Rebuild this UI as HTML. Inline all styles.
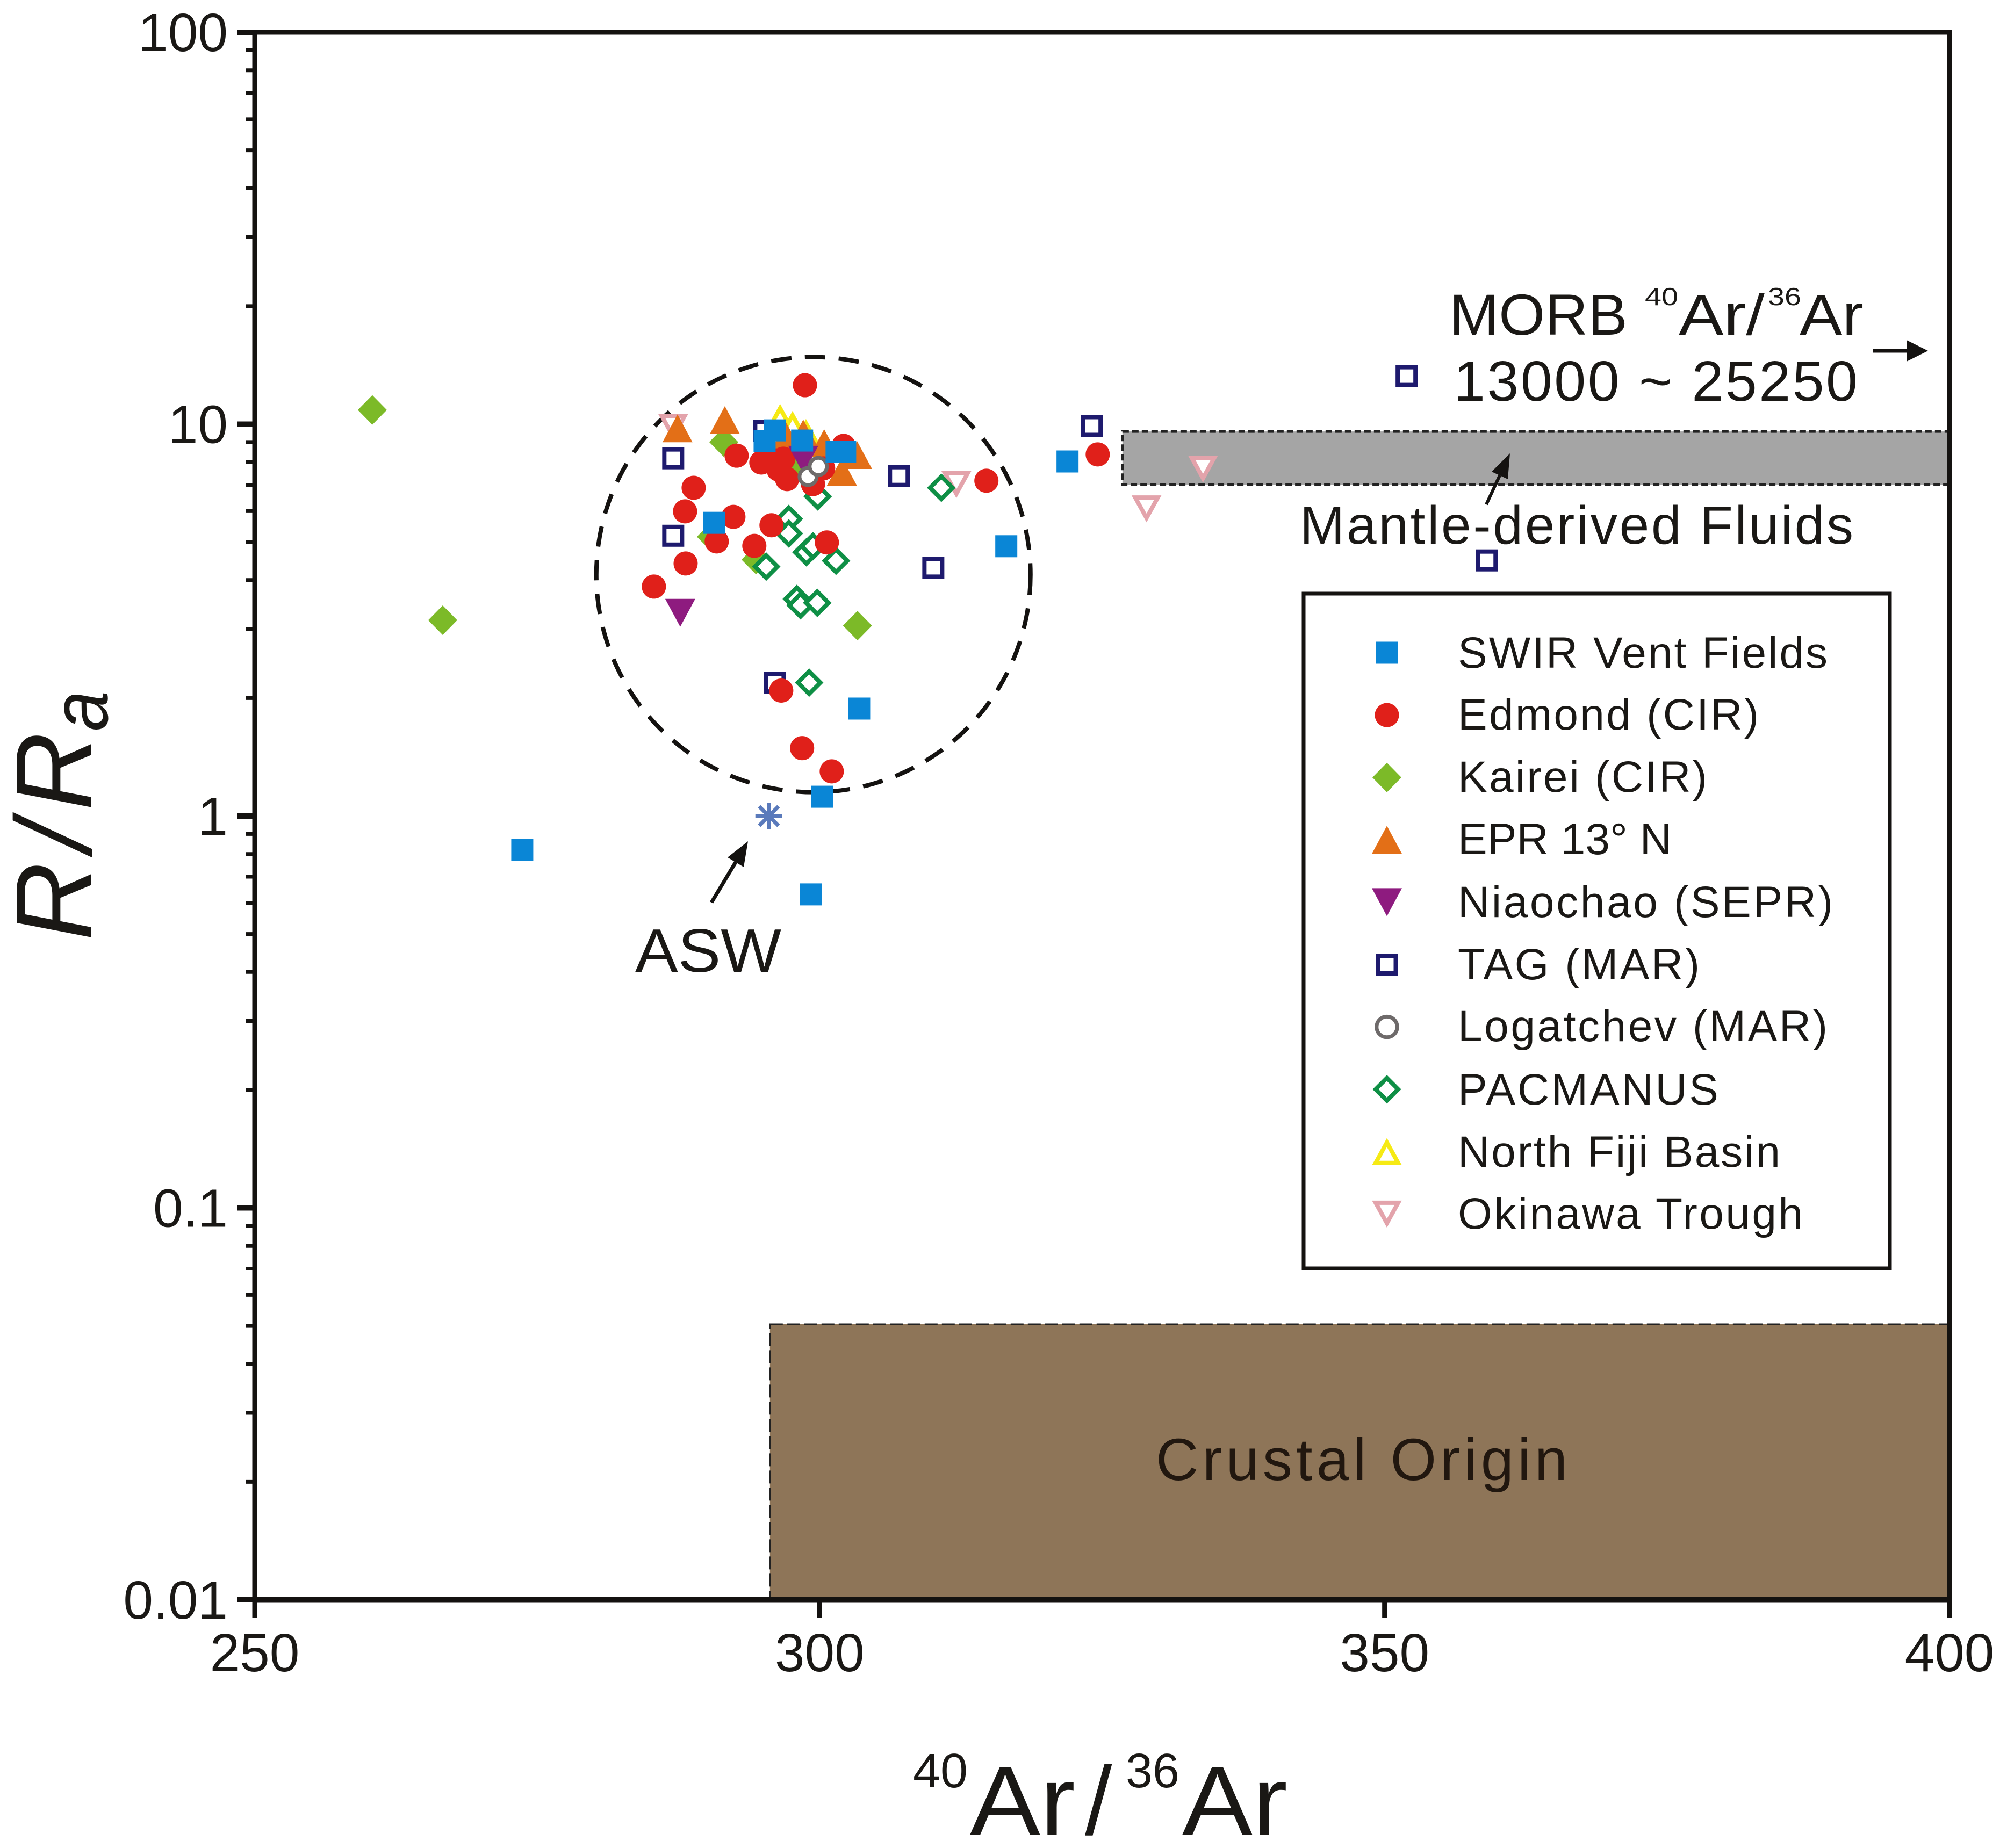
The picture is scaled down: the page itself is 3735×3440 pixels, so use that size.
<!DOCTYPE html>
<html lang="en">
<head>
<meta charset="utf-8">
<title>R/Ra vs 40Ar/36Ar</title>
<style>
html,body{margin:0;padding:0;background:#fff;}
svg{display:block;}
text{font-family:"Liberation Sans",Arial,sans-serif;fill:#1a1815;}
</style>
</head>
<body>
<svg id="chart" xmlns="http://www.w3.org/2000/svg" width="3735" height="3440" viewBox="0 0 3735 3440">
  <rect x="0" y="0" width="3735" height="3440" fill="#fff"/>
  <g id="regions"></g>
  <g id="axes"></g>
  <g id="asw-ring"></g>
  <g id="marks"></g>

  <text transform="translate(170,1751) rotate(-90)" font-size="202" font-style="italic" textLength="388" lengthAdjust="spacing">R/R</text>
  <text transform="translate(200,1361) rotate(-90)" font-size="150" font-style="italic" textLength="75" lengthAdjust="spacingAndGlyphs">a</text>

  <g>
    <text x="1699" y="3327" font-size="90" textLength="102" lengthAdjust="spacingAndGlyphs">40</text>
    <text x="1805" y="3415" font-size="182" textLength="196" lengthAdjust="spacingAndGlyphs">Ar</text>
    <text x="2019" y="3415" font-size="182">/</text>
    <text x="2095" y="3327" font-size="90" textLength="100" lengthAdjust="spacingAndGlyphs">36</text>
    <text x="2200" y="3415" font-size="182" textLength="196" lengthAdjust="spacingAndGlyphs">Ar</text>
  </g>

  <g>
    <text x="2697" y="623" font-size="108" textLength="332" lengthAdjust="spacingAndGlyphs">MORB</text>
    <text x="3061" y="568" font-size="46" textLength="62" lengthAdjust="spacingAndGlyphs">40</text>
    <text x="3124" y="623" font-size="108" textLength="160" lengthAdjust="spacingAndGlyphs">Ar/</text>
    <text x="3290" y="568" font-size="46" textLength="62" lengthAdjust="spacingAndGlyphs">36</text>
    <text x="3349" y="623" font-size="108" textLength="119" lengthAdjust="spacingAndGlyphs">Ar</text>
    <text x="2705" y="746" font-size="106" textLength="752" lengthAdjust="spacing">13000 ~ 25250</text>
    <line x1="3486" y1="653" x2="3552" y2="653" stroke="#141210" stroke-width="7"/>
    <polygon points="3588,653 3548,633 3548,673" fill="#141210"/>
  </g>

  <g>
    <line x1="2766" y1="939" x2="2791" y2="885" stroke="#141210" stroke-width="6"/>
    <polygon points="2810,844 2806,892 2776,878" fill="#141210"/>
    <text x="2419" y="1012" font-size="100" textLength="1030" lengthAdjust="spacing">Mantle-derived Fluids</text>
  </g>

  <g>
    <line x1="1324" y1="1680" x2="1369" y2="1605" stroke="#141210" stroke-width="7"/>
    <polygon points="1392,1566 1384,1614 1354,1596" fill="#141210"/>
    <text x="1182" y="1809" font-size="114" textLength="272" lengthAdjust="spacingAndGlyphs">ASW</text>
  </g>

  <text x="2151" y="2755" font-size="110" textLength="766" lengthAdjust="spacing" style="fill:#21170f">Crustal Origin</text>

  <g id="legend">
    <rect x="2426" y="1105" width="1091" height="1256" fill="#fff" stroke="#141210" stroke-width="7"/>
    <g id="legend-markers"></g>
    <text x="2713" y="1243" font-size="82" textLength="688" lengthAdjust="spacing">SWIR Vent Fields</text>
    <text x="2713" y="1358" font-size="82" textLength="560" lengthAdjust="spacing">Edmond (CIR)</text>
    <text x="2713" y="1474" font-size="82" textLength="464" lengthAdjust="spacing">Kairei (CIR)</text>
    <text x="2713" y="1590" font-size="82" textLength="398" lengthAdjust="spacing">EPR 13° N</text>
    <text x="2713" y="1707" font-size="82" textLength="698" lengthAdjust="spacing">Niaochao (SEPR)</text>
    <text x="2713" y="1823" font-size="82" textLength="450" lengthAdjust="spacing">TAG (MAR)</text>
    <text x="2713" y="1938" font-size="82" textLength="688" lengthAdjust="spacing">Logatchev (MAR)</text>
    <text x="2713" y="2056" font-size="82" textLength="485" lengthAdjust="spacing">PACMANUS</text>
    <text x="2713" y="2172" font-size="82" textLength="600" lengthAdjust="spacing">North Fiji Basin</text>
    <text x="2713" y="2287" font-size="82" textLength="642" lengthAdjust="spacing">Okinawa Trough</text>
  </g>
</svg>

<script>
// ---- Tick labels ----
const xTicks = [250, 300, 350, 400];
const yTicks = [100, 10, 1, 0.1, 0.01];
const yTickLabels = ['100', '10', '1', '0.1', '0.01'];
const yMinorMultipliers = [2, 3, 4, 5, 6, 7, 8, 9];

// ---- Series values (40Ar/36Ar, R/Ra) ----
const swirX = [296.03, 295.13, 298.45, 301.5, 302.26, 290.66, 316.52, 303.5, 300.21, 299.22, 321.94, 273.68];
const swirY = [9.64, 9.05, 9.08, 8.5, 8.5, 5.6, 4.88, 1.88, 1.12, 0.631, 8.03, 0.82];
const edmondX = [298.7, 292.65, 294.84, 296.22, 296.79, 296.36, 297.12, 299.41, 288.85, 288.09, 292.37, 295.74, 290.89, 294.22, 300.64, 288.14, 285.33, 296.6, 314.76, 298.45, 301.07, 302.12, 300.31, 324.61];
const edmondY = [12.57, 8.31, 7.98, 8.08, 8.16, 7.66, 7.24, 7.03, 6.88, 5.99, 5.8, 5.52, 5.02, 4.89, 4.99, 4.41, 3.85, 2.09, 7.17, 1.49, 1.3, 8.8, 7.71, 8.37];
const kaireiX = [291.51, 260.41, 266.64, 303.35, 290.42, 294.37, 297.98];
const kaireiY = [9.0, 10.87, 3.16, 3.06, 5.16, 4.51, 7.83];
const eprX = [287.42, 291.61, 298.55, 300.4, 303.31, 301.97, 297.03];
const eprY = [9.76, 10.24, 9.46, 8.94, 8.34, 7.56, 9.31];
const niaochaoX = [287.66, 298.55];
const niaochaoY = [3.3, 8.11];
const tagX = [295.08, 287.04, 287.04, 307.01, 310.06, 296.03, 324.08, 351.95, 359.04];
const tagY = [9.61, 8.18, 5.19, 7.37, 4.3, 2.19, 9.89, 13.26, 4.49];
const logatchevX = [298.98, 299.88];
const logatchevY = [7.35, 7.8];
const pacmanusX = [299.83, 297.27, 297.27, 298.83, 299.41, 301.45, 295.27, 297.98, 298.31, 299.79, 299.07, 310.77];
const pacmanusY = [6.54, 5.73, 5.26, 4.71, 4.88, 4.48, 4.33, 3.58, 3.45, 3.5, 2.19, 6.88];
const fijiX = [296.5, 297.6, 298.79];
const fijiY = [10.4, 9.98, 9.52];
const okinawaX = [287.04, 312.1, 328.93, 333.93];
const okinawaY = [9.8, 7.01, 6.08, 7.68];
const aswX = [295.5];
const aswY = [1];

// ---- Reference fields (data space) ----
const mantleBandX = [326.8, 400];
const mantleBandY = [7.01, 9.58];
const crustalBandX = [295.6, 400];
const crustalBandY = [0.01, 0.0505];

// ---- Axis functions ----
const X_MIN = 250, X_MAX = 400, Y_MIN = 0.01, Y_MAX = 100;
const PLOT_L = 474, PLOT_R = 3628, PLOT_T = 60, PLOT_B = 2978;
function sx(v) { return PLOT_L + (v - X_MIN) / (X_MAX - X_MIN) * (PLOT_R - PLOT_L); }
function sy(v) { return PLOT_B - (Math.log10(v) - Math.log10(Y_MIN)) / (Math.log10(Y_MAX) - Math.log10(Y_MIN)) * (PLOT_B - PLOT_T); }

const NS = 'http://www.w3.org/2000/svg';
function mk(tag, attrs, parent) {
  const el = document.createElementNS(NS, tag);
  for (const k in attrs) el.setAttribute(k, attrs[k]);
  parent.appendChild(el);
  return el;
}

// ---- Regions ----
const regions = document.getElementById('regions');
const bandMantle = mk('rect', {
  x: sx(mantleBandX[0]), y: sy(mantleBandY[1]),
  width: sx(mantleBandX[1]) - sx(mantleBandX[0]),
  height: sy(mantleBandY[0]) - sy(mantleBandY[1]),
  fill: '#a5a5a5', stroke: '#222', 'stroke-width': 5, 'stroke-dasharray': '12 6'
}, regions);


const bandCrust = mk('rect', {
  x: sx(crustalBandX[0]), y: sy(crustalBandY[1]),
  width: sx(crustalBandX[1]) - sx(crustalBandX[0]),
  height: sy(crustalBandY[0]) - sy(crustalBandY[1]),
  fill: '#8e7558', stroke: '#222', 'stroke-width': 3, 'stroke-dasharray': '24 8'
}, regions);



// ---- Axes ----
const axes = document.getElementById('axes');
const INK = '#141210';
function axisLine(name, x1, y1, x2, y2, w) {
  const el = mk('line', { x1: x1, y1: y1, x2: x2, y2: y2, stroke: INK, 'stroke-width': w }, axes);
  
  
}
axisLine('y-axis-line', PLOT_L, PLOT_T - 4, PLOT_L, PLOT_B + 5, 9);
axisLine('x-axis-line', PLOT_L - 4, PLOT_B, PLOT_R + 5, PLOT_B, 11);
axisLine('top-frame-line', PLOT_L - 4, PLOT_T, PLOT_R + 5, PLOT_T, 9);
axisLine('right-frame-line', PLOT_R, PLOT_T - 4, PLOT_R, PLOT_B + 5, 10);

xTicks.forEach(function (v) {
  axisLine('x-tick', sx(v), PLOT_B, sx(v), PLOT_B + 33, 9);
  const t = mk('text', { x: sx(v), y: 3111, 'font-size': 100, 'text-anchor': 'middle' }, axes);
  t.textContent = String(v);
  
  
});
yTicks.forEach(function (v, i) {
  axisLine('y-tick', PLOT_L - 33, sy(v), PLOT_L, sy(v), 10);
  const t = mk('text', { x: 424, y: sy(v) + 35, 'font-size': 100, 'text-anchor': 'end' }, axes);
  t.textContent = yTickLabels[i];
  
  
  if (v < Y_MAX) {
    yMinorMultipliers.forEach(function (m) {
      axisLine('y-minor-tick', PLOT_L - 17, sy(v * m), PLOT_L, sy(v * m), 7);
    });
  }
});

// ---- Dashed ring around the vent-fluid cluster ----
const ringCenterX = [299.45];
const ringCenterY = [4.13];
const ring = mk('ellipse', {
  cx: sx(ringCenterX[0]), cy: sy(ringCenterY[0]), rx: 404, ry: 405,
  fill: 'none', stroke: '#141210', 'stroke-width': 8, 'stroke-dasharray': '38 25'
}, document.getElementById('asw-ring'));



// ---- Marker drawing ----
function drawMarker(parent, type, px, py, color, scale) {
  const s = scale || 1;
  let el;
  if (type === 'square') {
    el = mk('rect', { x: px - 20.5 * s, y: py - 20.5 * s, width: 41 * s, height: 41 * s, fill: color }, parent);
  } else if (type === 'circle') {
    el = mk('circle', { cx: px, cy: py, r: 22.5 * s, fill: color }, parent);
  } else if (type === 'diamond') {
    el = mk('polygon', { points: [px, py - 27.5 * s, px + 27 * s, py, px, py + 27.5 * s, px - 27 * s, py].join(' '), fill: color }, parent);
  } else if (type === 'up') {
    el = mk('polygon', { points: [px, py - 26 * s, px + 28 * s, py + 26 * s, px - 28 * s, py + 26 * s].join(' '), fill: color }, parent);
  } else if (type === 'down') {
    el = mk('polygon', { points: [px, py + 26 * s, px + 28 * s, py - 26 * s, px - 28 * s, py - 26 * s].join(' '), fill: color }, parent);
  } else if (type === 'opensquare') {
    el = mk('rect', { x: px - 16.5, y: py - 16.5, width: 33, height: 33, fill: '#fff', stroke: color, 'stroke-width': 8 }, parent);
  } else if (type === 'ring') {
    el = mk('circle', { cx: px, cy: py, r: 16 * s, fill: '#fff', stroke: color, 'stroke-width': 7 }, parent);
  } else if (type === 'opendiamond') {
    el = mk('polygon', { points: [px, py - 21, px + 21, py, px, py + 21, px - 21, py].join(' '), fill: '#fff', stroke: color, 'stroke-width': 8 }, parent);
  } else if (type === 'openup') {
    el = mk('polygon', { points: [px, py - 17, px + 21, py + 21, px - 21, py + 21].join(' '), fill: '#fff', stroke: color, 'stroke-width': 8 }, parent);
  } else if (type === 'opendown') {
    el = mk('polygon', { points: [px, py + 17, px + 21, py - 21, px - 21, py - 21].join(' '), fill: '#fff', stroke: color, 'stroke-width': 8 }, parent);
  } else if (type === 'star') {
    el = mk('g', { stroke: color, 'stroke-width': 7 }, parent);
    [[0, -25], [25, 0], [18, -18], [18, 18]].forEach(function (d) {
      mk('line', { x1: px - d[0], y1: py - d[1], x2: px + d[0], y2: py + d[1] }, el);
    });
  }
  return el;
}

// ---- Series in paint order ----
const marks = document.getElementById('marks');
const paintOrder = [
  { name: 'kairei-point', type: 'diamond', color: '#7cba28', xs: kaireiX, ys: kaireiY },
  { name: 'okinawa-point', type: 'opendown', color: '#e3a3ab', xs: okinawaX, ys: okinawaY },
  { name: 'north-fiji-point', type: 'openup', color: '#f6ea14', xs: fijiX, ys: fijiY },
  { name: 'tag-point', type: 'opensquare', color: '#1e1a6e', xs: tagX, ys: tagY },
  { name: 'pacmanus-point', type: 'opendiamond', color: '#0e8f45', xs: pacmanusX, ys: pacmanusY },
  { name: 'epr-point', type: 'up', color: '#e36f17', xs: eprX, ys: eprY },
  { name: 'edmond-point', type: 'circle', color: '#e0201a', xs: edmondX, ys: edmondY },
  { name: 'niaochao-point', type: 'down', color: '#8e1b7f', xs: niaochaoX, ys: niaochaoY },
  { name: 'logatchev-point', type: 'ring', color: '#6e6a6a', xs: logatchevX, ys: logatchevY },
  { name: 'swir-point', type: 'square', color: '#0a86d6', xs: swirX, ys: swirY },
  { name: 'asw-point', type: 'star', color: '#5a7abb', xs: aswX, ys: aswY }
];
paintOrder.forEach(function (series) {
  series.xs.forEach(function (xv, i) {
    const el = drawMarker(marks, series.type, sx(xv), sy(series.ys[i]), series.color);
    
    
  });
});

// ---- Legend markers ----
const legendMarkerTypes = ['square', 'circle', 'diamond', 'up', 'down', 'opensquare', 'ring', 'opendiamond', 'openup', 'opendown'];
const legendMarkerColors = ['#0a86d6', '#e0201a', '#7cba28', '#e36f17', '#8e1b7f', '#1e1a6e', '#6e6a6a', '#0e8f45', '#f6ea14', '#e3a3ab'];
const legendGroup = document.getElementById('legend-markers');
legendMarkerTypes.forEach(function (type, i) {
  const el = drawMarker(legendGroup, type, 2581, 1215 + i * 116.1, legendMarkerColors[i], type === 'ring' ? 1.2 : 1);
  
  
});
</script>
</body>
</html>
